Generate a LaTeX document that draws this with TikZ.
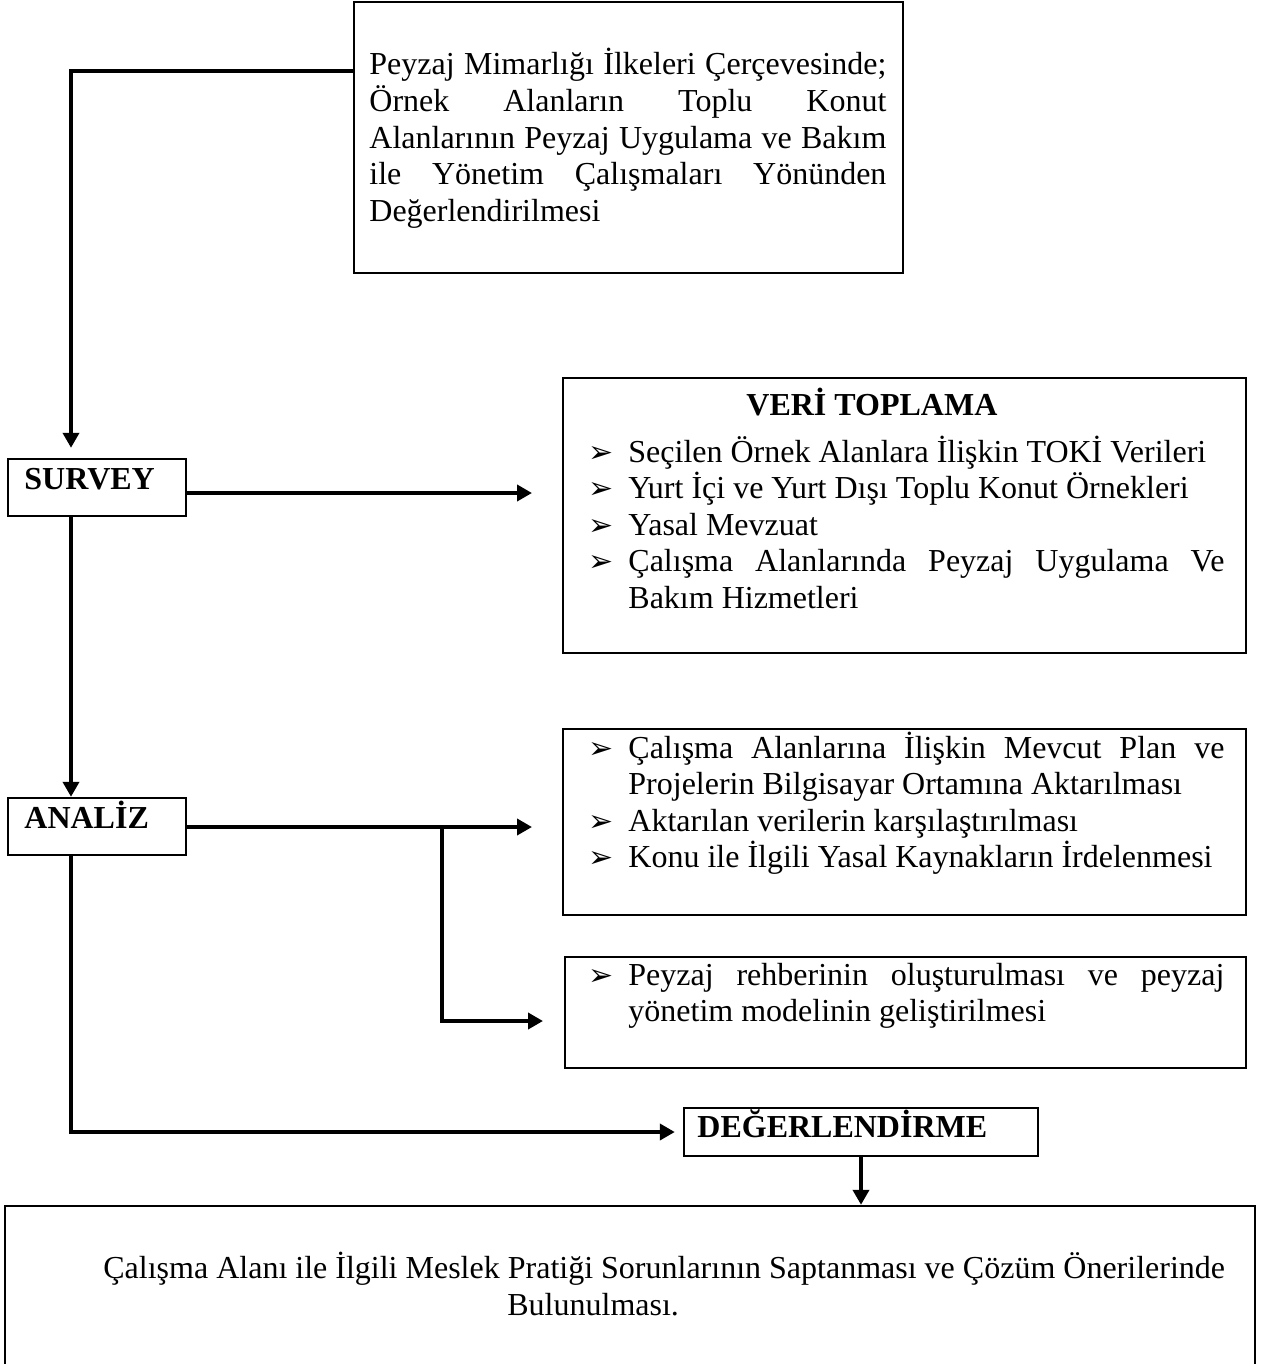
\documentclass[tikz,border=0pt]{standalone}
\usepackage{fontspec}
\setmainfont{Liberation Serif}
\newfontfamily\dingfont{DejaVu Sans}
\usetikzlibrary{arrows.meta,fit}
\newcommand\ns[1]{\mbox{\spaceskip=0pt\xspaceskip=0pt\relax #1}}
\newcommand\bul{\makebox[20pt][l]{\dingfont\fontsize{15}{15}\selectfont ➢}}
\newcommand\js[1]{\makebox[\hsize][s]{\spaceskip=\fontdimen2\font plus 1fil\relax #1}}
\newcommand\bj[1]{\bul\makebox[\dimexpr\hsize-20pt\relax][s]{\spaceskip=\fontdimen2\font plus 1fil\relax #1}}
\newcommand\bl[1]{\bul\ns{#1}}
\newcommand\bi[1]{\hspace*{20pt}\ns{#1}}
\tikzset{
  box/.style={draw, line width=1.2pt, inner sep=0pt},
  conn/.style={line width=2pt, -{Triangle[length=7.5pt,width=8pt]}},
  txt/.style={inner sep=0pt, anchor=base west,
    font=\fontsize{16}{18.3}\selectfont},
  lbl/.style={inner sep=0pt, anchor=base west,
    font=\fontsize{16}{18.3}\selectfont\bfseries},
}
\begin{document}
\begin{tikzpicture}[x=0.5pt,y=-0.5pt]
\useasboundingbox (0,0) rectangle (1260,1364);
% boxes
\node[box, fit={(354,2) (903,273)}] (top) {};
\node[box, fit={(8,459) (186,516)}] (survey) {};
\node[box, fit={(563,378) (1246,653)}] (veri) {};
\node[box, fit={(8,798) (186,855)}] (analiz) {};
\node[box, fit={(563,729) (1246,915)}] (b3) {};
\node[box, fit={(565,957) (1246,1068)}] (b4) {};
\node[box, fit={(684,1108) (1038,1156)}] (deg) {};
\node[box, fit={(5,1206) (1255,1390)}] (fin) {};
% texts
\node[txt, text width=258.5pt] (toptext) at (369,75) {%
\js{Peyzaj Mimarlığı İlkeleri Çerçevesinde;}\\
\js{Örnek Alanların Toplu Konut}\\
\js{Alanlarının Peyzaj Uygulama ve Bakım}\\
\js{ile Yönetim Çalışmaları Yönünden}\\
\ns{Değerlendirilmesi}};
\node[lbl] (surveytext) at (24,489) {SURVEY};
\node[lbl] (analiztext) at (24,828) {ANALİZ};
\node[lbl] (degtext) at (697,1137) {DEĞERLENDİRME};
\node[lbl] (verititle) at (746,415) {\ns{VERİ TOPLAMA}};
\node[txt, text width=318pt] (veritext) at (588,462) {%
\bl{Seçilen Örnek Alanlara İlişkin TOKİ Verileri}\\
\bl{Yurt İçi ve Yurt Dışı Toplu Konut Örnekleri}\\
\bl{Yasal Mevzuat}\\
\bj{Çalışma Alanlarında Peyzaj Uygulama Ve}\\
\bi{Bakım Hizmetleri}};
\node[txt, text width=318pt] (b3text) at (588,758) {%
\bj{Çalışma Alanlarına İlişkin Mevcut Plan ve}\\
\bi{Projelerin Bilgisayar Ortamına Aktarılması}\\
\bl{Aktarılan verilerin karşılaştırılması}\\
\bl{Konu ile İlgili Yasal Kaynakların İrdelenmesi}};
\node[txt, text width=318pt] (b4text) at (588,985) {%
\bj{Peyzaj rehberinin oluşturulması ve peyzaj}\\
\bi{yönetim modelinin geliştirilmesi}};
\node[txt, text width=600pt, font=\fontsize{16}{18.8}\selectfont] (fintext) at (103,1278) {%
\ns{Çalışma Alanı ile İlgili Meslek Pratiği Sorunlarının Saptanması ve Çözüm Önerilerinde}\\
\hspace*{202pt}\ns{Bulunulması.}};
% connectors
\coordinate (v) at (71,71);
\coordinate (s1) at (532,493);
\coordinate (a1) at (532,827);
\coordinate (br) at (442,1021);
\coordinate (a2) at (543,1021);
\draw[conn, shorten >=5pt] (top.west |- v) -- (v) -- (v |- survey.north);
\draw[conn] (survey.east |- s1) -- (s1);
\draw[conn] (v |- survey.south) -- (v |- analiz.north);
\draw[conn] (analiz.east |- a1) -- (a1);
\draw[conn] (br |- a1) -- (br) -- (a2);
\draw[conn, shorten >=4pt] (v |- analiz.south) -- (v |- deg.west) -- (deg.west);
\draw[conn] (deg.south) -- (deg.south |- fin.north);
\end{tikzpicture}
\end{document}
